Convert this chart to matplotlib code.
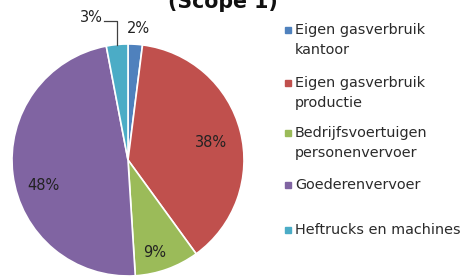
import numpy as np
import matplotlib.pyplot as plt

plt.rcParams['font.family'] = ['DejaVu Sans']

categories = ["Eigen gasverbruik\nkantoor", "Eigen gasverbruik\nproductie",
              "Bedrijfsvoertuigen\npersonenvervoer", "Goederenvervoer",
              "Heftrucks en machines"]
values = [2, 38, 9, 48, 3]
colors = ["#4F81BD", "#C0504D", "#9BBB59", "#8064A2", "#4BACC6"]
title = "(Scope 1)"

fig = plt.figure(figsize=(4.71, 2.77), dpi=100)
ax = fig.add_axes([12 / 471, 1 / 277, 232 / 471, 232 / 277])

wedges, _ = ax.pie(values, colors=colors, startangle=90, counterclock=False,
                   radius=1, wedgeprops=dict(edgecolor="white", linewidth=1.2))
ax.set_xlim(-1, 1)
ax.set_ylim(-1, 1)
ax.set_aspect("equal")

# where each percentage label sits (axes units, radius = 1)
label_pos = {2: (0.09, 1.13), 38: (0.716, 0.147), 9: (0.233, -0.80),
             48: (-0.733, -0.216)}
for w, v in zip(wedges, values):
    if v == 3:
        # leader line from the wedge edge up and left to the label
        mid = np.deg2rad((w.theta1 + w.theta2) / 2)
        ex, ey = np.cos(mid), np.sin(mid)
        ly = 1.2
        ax.plot([ex, ex, ex - 0.11], [ey, ly, ly], color="#404040", lw=0.9,
                clip_on=False)
        ax.text(ex - 0.12, ly + 0.03, f"{v}%", ha="right", va="center",
                fontsize=10.5, color="#222222")
        continue
    x, y = label_pos[v]
    ax.text(x, y, f"{v}%", ha="center", va="center", fontsize=10.5,
            color="#222222", clip_on=False)

# legend, placed like the original (uneven gaps)
leg_y = [30, 83, 133, 185, 230]
for lab, c, yy in zip(categories, colors, leg_y):
    fy = 1 - yy / 277
    fig.patches.append(plt.Rectangle((285 / 471, fy - 3 / 277), 6 / 471, 6 / 277,
                                     transform=fig.transFigure, color=c))
    fig.text(295 / 471, fy + 7 / 277, lab, ha="left", va="top", fontsize=10.4,
             color="#2a2a2a", linespacing=1.55)

fig.text(223 / 471, 1 - 8 / 277, title, ha="center", va="baseline",
         fontsize=14.8, fontweight="bold", color="#111111")

fig.savefig("out.png", dpi=100)
